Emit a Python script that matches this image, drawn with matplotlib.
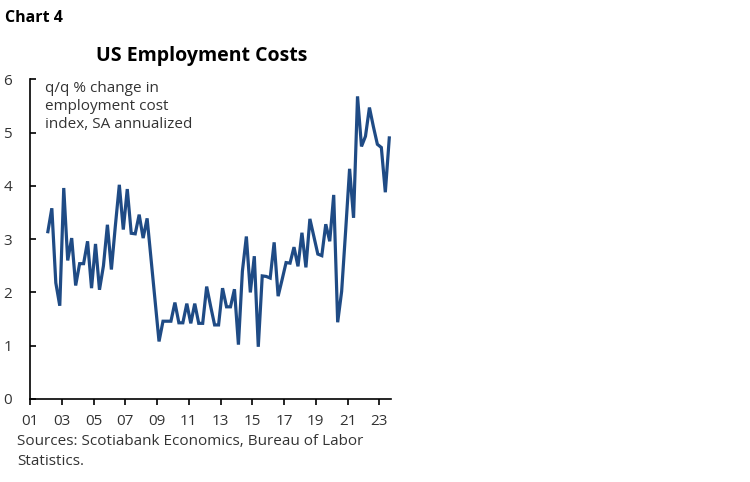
import numpy as np
import pandas as pd
import matplotlib
matplotlib.use("Agg")
import matplotlib.pyplot as plt

# quarterly ECI, q/q % change SA annualized, 2002Q1 .. 2023Q3
quarters = pd.period_range("2002Q1", "2023Q3", freq="Q")
eci_qq = [
    3.14, 3.58, 2.18, 1.75, 3.96, 2.60, 3.02, 2.13, 2.54, 2.54,
    2.96, 2.08, 2.91, 2.05, 2.50, 3.27, 2.43, 3.25, 4.02, 3.18,
    3.94, 3.11, 3.10, 3.46, 3.02, 3.39, 2.62, 1.85, 1.08, 1.46,
    1.46, 1.46, 1.81, 1.43, 1.43, 1.79, 1.42, 1.79, 1.42, 1.42,
    2.11, 1.74, 1.39, 1.39, 2.08, 1.73, 1.73, 2.06, 1.02, 2.40,
    3.05, 2.00, 2.68, 0.98, 2.31, 2.30, 2.27, 2.94, 1.93, 2.24,
    2.56, 2.55, 2.85, 2.49, 3.12, 2.47, 3.38, 3.05, 2.72, 2.69,
    3.28, 2.96, 3.83, 1.44, 2.02, 3.15, 4.32, 3.40, 5.68, 4.74,
    4.93, 5.47, 5.11, 4.78, 4.72, 3.88, 4.90,
]
tick_years = list(range(2001, 2024, 2))
tick_labels = [f"{y % 100:02d}" for y in tick_years]
y_ticks = [0, 1, 2, 3, 4, 5, 6]

plt.rcParams['font.family'] = ['Open Sans', 'DejaVu Sans']

# mid-quarter positions in fractional years
x = np.array([q.year + (q.quarter - 1) / 4 + 0.125 for q in quarters])

fig = plt.figure(figsize=(7.5, 4.82), dpi=100)
ax = fig.add_axes([30 / 750, 1 - 399 / 482, 361 / 750, 319.7 / 482])

ax.plot(x, eci_qq, color='#1f4b85', linewidth=2.3, solid_joinstyle='miter')

ax.set_xlim(2001, 2001 + 361 / 15.88)
ax.set_ylim(0, 6)
ax.set_xticks(tick_years)
ax.set_xticklabels(tick_labels)
ax.set_yticks(y_ticks)

for s in ['top', 'right']:
    ax.spines[s].set_visible(False)
for s in ['left', 'bottom']:
    ax.spines[s].set_linewidth(1.2)
    ax.spines[s].set_color('black')

ax.tick_params(axis='x', direction='out', length=4, width=1.2, pad=7,
               labelsize=11, labelcolor='#333333')
ax.tick_params(axis='y', direction='in', length=4, width=1.2, pad=13,
               labelsize=11, labelcolor='#333333')

# note inside the plot, top-left
fig.text(45 / 750, 1 - 81 / 482,
         "q/q % change in\nemployment cost\nindex, SA annualized",
         ha='left', va='top', fontsize=11, color='#333333', linespacing=1.25)

fig.text(5 / 750, 1 - 22 / 482, "Chart 4", fontsize=11.5, fontweight='bold',
         ha='left', va='baseline', color='black')
fig.text(202 / 750, 1 - 61.5 / 482, "US Employment Costs", fontsize=14,
         fontweight='bold', ha='center', va='baseline', color='black')
fig.text(17 / 750, 1 - 434 / 482,
         "Sources: Scotiabank Economics, Bureau of Labor\nStatistics.",
         fontsize=11, ha='left', va='top', color='#333333', linespacing=1.45)

fig.savefig("out.png", dpi=100, facecolor='white')
